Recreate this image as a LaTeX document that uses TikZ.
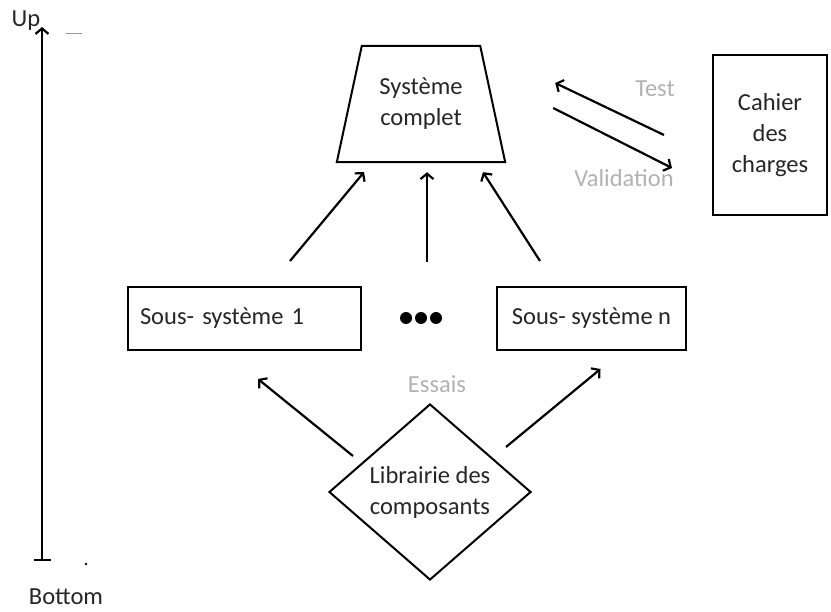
\documentclass[tikz,border=0pt]{standalone}
\usepackage{fontspec}
\setmainfont{Carlito}
\usetikzlibrary{shapes.geometric,arrows.meta,calc}
\begin{document}
\begin{tikzpicture}[x=1pt,y=-1pt,
    every node/.style={font=\fontsize{24.5}{31}\selectfont, text=black!85},
    box/.style={draw, line width=2pt, inner sep=0pt},
    lbl/.style={text=black!30},
    arr/.style={-{Straight Barb[length=5.5pt,width=13pt]}, line width=2.2pt}]
  \useasboundingbox (0,0) rectangle (831,612);
  \draw
    (421,104) node[minimum width=168, minimum height=116, inner sep=0pt, align=center] (sys) {Système\\complet}
    (770,135) node[box, minimum width=114, minimum height=160, align=center] (cdc) {Cahier\\des\\charges}
    (244.5,318.5) node[box, minimum width=233, minimum height=63, text width=209,
      inner xsep=12pt, align=left] (ss1) {Sous- système 1}
    (591.5,318.5) node[box, minimum width=189, minimum height=63] (ssn) {Sous- système n}
    (421,318) node (dots) {}
    (430,492) node[box, diamond, minimum width=202, minimum height=176,
      label={[align=center]center:Librairie des\\composants}] (lib) {}
    (26,21) node (up) {Up}
    (66,597) node (bottom) {Bottom}
    (655,89) node[lbl] (test) {Test}
    (624,178) node[lbl] (valid) {Validation}
    (437,384) node[lbl] (essais) {Essais};
  \draw[line width=2pt, line join=miter] (sys.south west) -- ($(sys.north west)+(25,0)$)
    -- ($(sys.north east)+(-25,0)$) -- (sys.south east) -- cycle;
  \foreach \dx in {-15,0,15}
    \fill ($(dots)+(\dx,0)$) circle (6);
  \coordinate (axbot) at (42,561);
  \coordinate (axtop) at (42,27);
  \draw[line width=2.2pt, {Bar[width=17pt]}-{Straight Barb[length=5.5pt,width=13pt]}] (axbot) -- (axtop);
  \draw[black!40, line width=0.8pt] (66,33) -- (82,33);
  \fill (86,564) circle (1.3);
  \begin{scope}[arr]
    \draw ($(ss1.north)+(45.5,-25)$) -- ($(sys.south)+(-57,10)$);
    \draw ($(dots)+(6,-56)$) -- ($(sys.south)+(6,10)$);
    \draw ($(ssn.north)+(-51.5,-25)$) -- ($(sys.south)+(62,10)$);
    \draw ($(cdc.west)+(-48,0)$) -- ($(sys.east)+(50,-21)$);
    \draw ($(sys.east)+(48,4)$) -- ($(cdc.west)+(-40,33)$);
    \draw ($(lib)+(-77,-36)$) -- ($(ss1.south)+(13.5,28)$);
    \draw ($(lib)+(76,-45)$) -- ($(ssn.south)+(9,18)$);
  \end{scope}
\end{tikzpicture}
\end{document}
